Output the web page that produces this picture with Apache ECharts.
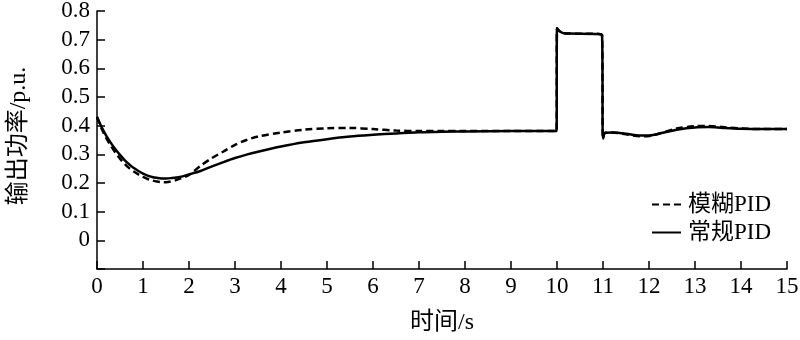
<!DOCTYPE html>
<html>
<head>
<meta charset="utf-8">
<script src="https://cdn.jsdelivr.net/npm/echarts@6/dist/echarts.min.js"></script>
<style>html,body{margin:0;padding:0;background:#fff}#c{width:800px;height:340px}</style>
</head>
<body>
<div id="c"></div>
<script>
var seriesNames = ['模糊PID', '常规PID'];
var xTicks = [0,1,2,3,4,5,6,7,8,9,10,11,12,13,14,15];
var yTicks = [0,0.1,0.2,0.3,0.4,0.5,0.6,0.7,0.8];

var fuzzyT = [0,0.1,0.2,0.3,0.4,0.5,0.6,0.7,0.8,0.9,1.0,1.1,1.2,1.3,1.4,1.5,1.6,1.7,1.8,2.0,2.25,2.5,2.75,3.0,3.25,3.5,4.0,4.5,5.0,5.5,6.0,6.5,7.0,7.5,8.0,9.0,9.99,10.0,10.05,10.15,10.9,10.98,11.0,11.05,11.2,11.5,11.8,12.0,12.3,12.6,13.0,13.3,13.6,14.0,14.5,15.0];
var fuzzyV = [0.43,0.39,0.357,0.33,0.306,0.285,0.267,0.252,0.24,0.23,0.221,0.214,0.209,0.205,0.203,0.203,0.205,0.209,0.215,0.228,0.26,0.287,0.31,0.333,0.35,0.362,0.376,0.386,0.391,0.392,0.388,0.383,0.381,0.381,0.381,0.381,0.381,0.74,0.73,0.722,0.72,0.715,0.355,0.375,0.376,0.37,0.363,0.364,0.376,0.39,0.398,0.399,0.395,0.39,0.388,0.388];

var pidT = [0,0.1,0.2,0.3,0.4,0.5,0.6,0.7,0.8,0.9,1.0,1.1,1.2,1.3,1.4,1.5,1.6,1.8,2.0,2.25,2.5,2.75,3.0,3.25,3.5,4.0,4.5,5.0,5.5,6.0,6.5,7.0,7.5,8.0,9.0,9.99,10.0,10.05,10.15,10.9,10.98,11.0,11.05,11.2,11.5,11.8,12.0,12.3,12.6,13.0,13.3,13.6,14.0,14.5,15.0];
var pidV = [0.43,0.395,0.365,0.34,0.318,0.298,0.28,0.265,0.252,0.242,0.233,0.226,0.221,0.218,0.216,0.216,0.217,0.221,0.23,0.242,0.258,0.273,0.287,0.299,0.309,0.327,0.342,0.353,0.362,0.368,0.373,0.377,0.379,0.38,0.381,0.381,0.74,0.73,0.722,0.72,0.715,0.355,0.375,0.376,0.372,0.366,0.366,0.375,0.386,0.394,0.395,0.392,0.389,0.388,0.388];

function pairs(t, v) { return t.map(function (x, i) { return [x, v[i]]; }); }

var FONT = '"Liberation Serif", "Noto Sans CJK SC", serif';
var chart = echarts.init(document.getElementById('c'), null, {renderer: 'canvas'});
chart.setOption({
  animation: false,
  backgroundColor: '#fff',
  grid: {left: 97, right: 13, top: 11, bottom: 71, containLabel: false, outerBoundsMode: 'none'},
  legend: {
    orient: 'vertical', left: 651, top: 193, padding: 0, itemWidth: 29, itemHeight: 10, itemGap: 5,
    textStyle: {fontFamily: FONT, fontSize: 23, color: '#000', padding: [0, 0, 0, 2]},
    itemStyle: {opacity: 0},
    data: seriesNames
  },
  xAxis: {
    type: 'value', min: 0, max: 15, interval: 1,
    name: '时间/s', nameLocation: 'middle', nameGap: 42,
    nameTextStyle: {fontFamily: FONT, fontSize: 24, color: '#000'},
    axisLine: {onZero: false, lineStyle: {color: '#000', width: 1.5}},
    axisTick: {inside: true, length: 8, lineStyle: {color: '#000', width: 1.5}},
    axisLabel: {fontFamily: FONT, fontSize: 23, color: '#000', margin: 6,
      formatter: function (v) { return xTicks.indexOf(v) >= 0 ? String(v) : ''; }},
    splitLine: {show: false}
  },
  yAxis: {
    type: 'value', min: -0.1, max: 0.8, interval: 0.1,
    name: '输出功率/p.u.', nameLocation: 'middle', nameGap: 66, nameRotate: 90,
    nameTextStyle: {fontFamily: FONT, fontSize: 24, color: '#000', padding: [0, 0, 0, 8]},
    axisLine: {show: true, onZero: false, lineStyle: {color: '#000', width: 1.5}},
    axisTick: {show: true, inside: true, length: 8, lineStyle: {color: '#000', width: 1.5}},
    axisLabel: {fontFamily: FONT, fontSize: 23, color: '#000', margin: 7,
      formatter: function (v) {
        var r = Math.round(v * 10) / 10;
        if (r < 0) return '';
        for (var i = 0; i < yTicks.length; i++) if (Math.abs(yTicks[i] - r) < 1e-6) return r === 0 ? '0' : r.toFixed(1);
        return '';
      }},
    splitLine: {show: false}
  },
  series: [
    {name: seriesNames[0], type: 'line', data: pairs(fuzzyT, fuzzyV), symbol: 'none', smooth: 0.3,
     lineStyle: {color: '#000', width: 2.5, type: [7, 4]}, itemStyle: {color: '#000'}, z: 3},
    {name: seriesNames[1], type: 'line', data: pairs(pidT, pidV), symbol: 'none', smooth: 0.3,
     lineStyle: {color: '#000', width: 2.5}, itemStyle: {color: '#000'}, z: 2}
  ]
});
</script>
</body>
</html>
